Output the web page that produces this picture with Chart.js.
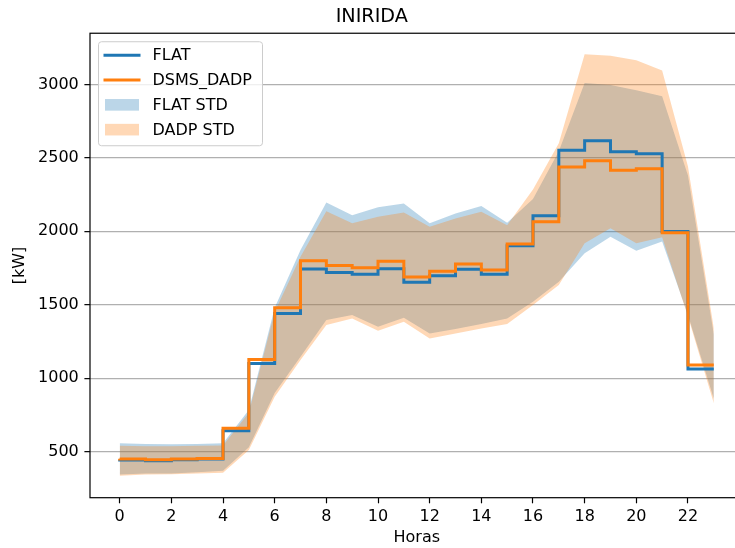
<!DOCTYPE html>
<html>
<head>
<meta charset="utf-8">
<title>INIRIDA</title>
<script src="https://cdn.jsdelivr.net/npm/chart.js@4.4.0/dist/chart.umd.min.js"></script>
<style>
  html, body { margin: 0; padding: 0; background: #fff; overflow: hidden; }
  canvas { display: block; }
</style>
</head>
<body>
<canvas id="chart" width="834" height="548"></canvas>
<script>
// hourly demand profile for Inirida, flat tariff vs DSMS_DADP
const hours = [0, 1, 2, 3, 4, 5, 6, 7, 8, 9, 10, 11, 12, 13, 14, 15, 16, 17, 18, 19, 20, 21, 22, 23];

// mean load (kW), drawn as steps: value i covers hour i-1..i
const flat = [446, 444, 439, 446, 450, 643, 1101, 1441, 1743, 1720, 1707, 1745, 1654, 1697, 1741, 1707, 1901, 2106, 2552, 2616, 2541, 2527, 1998, 1063];
const dadp = [452, 450, 446, 450, 454, 659, 1128, 1480, 1800, 1768, 1752, 1797, 1689, 1729, 1777, 1737, 1913, 2065, 2437, 2480, 2416, 2425, 1990, 1090];

// std bands (upper / lower edge)
const flatUpper = [557, 552, 550, 552, 557, 784, 1480, 1872, 2196, 2110, 2163, 2190, 2054, 2121, 2173, 2058, 2220, 2545, 3010, 2996, 2960, 2919, 2380, 1300];
const flatLower = [345, 352, 352, 360, 370, 530, 900, 1146, 1396, 1430, 1350, 1411, 1305, 1335, 1369, 1407, 1520, 1657, 1850, 1963, 1868, 1930, 1430, 860];
const dadpUpper = [540, 538, 537, 540, 543, 765, 1450, 1827, 2136, 2054, 2099, 2128, 2031, 2088, 2133, 2042, 2285, 2600, 3205, 3195, 3165, 3094, 2441, 1340];
const dadpLower = [337, 345, 346, 352, 357, 512, 874, 1124, 1362, 1407, 1323, 1384, 1271, 1305, 1339, 1369, 1498, 1634, 1918, 2020, 1918, 1960, 1420, 830];

const xTicks = [0, 2, 4, 6, 8, 10, 12, 14, 16, 18, 20, 22];
const yTicks = [500, 1000, 1500, 2000, 2500, 3000];

const BLUE = '#1f77b4';
const ORANGE = '#ff7f0e';
const BLUE_BAND = 'rgba(31,119,180,0.3)';
const ORANGE_BAND = 'rgba(255,127,14,0.3)';
const FONT = 'DejaVu Sans';

function points(ys) {
  return ys.map((y, i) => ({x: hours[i], y: y}));
}

// legend rows, as dataset indexes
const legendOrder = [1, 0, 4, 2];

// axes frame + boxed legend in the upper left corner
const frameLegend = {
  id: 'frameLegend',
  afterDraw(chart) {
    const ctx = chart.ctx;
    const a = chart.chartArea;
    ctx.save();

    // spines
    ctx.strokeStyle = '#000';
    ctx.lineWidth = 1.2;
    ctx.strokeRect(a.left, a.top, a.right - a.left, a.bottom - a.top);

    // legend box
    const bx = a.left + 8.5, by = a.top + 8.5, bw = 164, bh = 104, r = 3;
    ctx.beginPath();
    ctx.moveTo(bx + r, by);
    ctx.arcTo(bx + bw, by, bx + bw, by + bh, r);
    ctx.arcTo(bx + bw, by + bh, bx, by + bh, r);
    ctx.arcTo(bx, by + bh, bx, by, r);
    ctx.arcTo(bx, by, bx + bw, by, r);
    ctx.closePath();
    ctx.fillStyle = 'rgba(255,255,255,0.8)';
    ctx.fill();
    ctx.strokeStyle = '#cccccc';
    ctx.lineWidth = 1;
    ctx.stroke();

    ctx.font = '16px "' + FONT + '"';
    ctx.textBaseline = 'middle';
    ctx.textAlign = 'left';
    legendOrder.forEach((idx, row) => {
      const ds = chart.data.datasets[idx];
      const cy = by + 13.5 + row * 24.8;
      if (ds.fill) {
        ctx.fillStyle = ds.backgroundColor;
        ctx.fillRect(bx + 6.5, cy - 5.8, 34, 11.6);
      } else {
        ctx.strokeStyle = ds.borderColor;
        ctx.lineWidth = ds.borderWidth;
        ctx.beginPath();
        ctx.moveTo(bx + 5, cy);
        ctx.lineTo(bx + 42, cy);
        ctx.stroke();
      }
      ctx.fillStyle = '#000';
      ctx.fillText(ds.label, bx + 54, cy + 1);
    });
    ctx.restore();
  }
};

const bandStyle = {
  borderColor: 'rgba(0,0,0,0)',
  borderWidth: 0,
  pointRadius: 0,
  tension: 0
};

new Chart(document.getElementById('chart'), {
  type: 'line',
  data: {
    datasets: [
      {label: 'DSMS_DADP', data: points(dadp), borderColor: ORANGE, borderWidth: 3,
       stepped: 'after', pointRadius: 0, fill: false},
      {label: 'FLAT', data: points(flat), borderColor: BLUE, borderWidth: 3,
       stepped: 'after', pointRadius: 0, fill: false},
      Object.assign({label: 'DADP STD', data: points(dadpUpper), backgroundColor: ORANGE_BAND, fill: '+1'}, bandStyle),
      Object.assign({label: 'DADP STD low', data: points(dadpLower), backgroundColor: ORANGE_BAND, fill: false}, bandStyle),
      Object.assign({label: 'FLAT STD', data: points(flatUpper), backgroundColor: BLUE_BAND, fill: '+1'}, bandStyle),
      Object.assign({label: 'FLAT STD low', data: points(flatLower), backgroundColor: BLUE_BAND, fill: false}, bandStyle)
    ]
  },
  options: {
    responsive: false,
    devicePixelRatio: 1,
    animation: false,
    events: [],
    layout: {padding: {left: 0, right: 90.5, top: 0, bottom: 0}},
    plugins: {
      legend: {display: false},
      tooltip: {enabled: false},
      title: {
        display: true,
        text: 'INIRIDA',
        color: '#000',
        font: {family: FONT, size: 19.2, weight: 'normal', lineHeight: 1.2},
        padding: {top: 5, bottom: 5.2}
      }
    },
    scales: {
      x: {
        type: 'linear',
        min: -1.15,
        max: 24.15,
        afterBuildTicks: (scale) => { scale.ticks = xTicks.map(v => ({value: v})); },
        afterFit: (scale) => { scale.height = 50.3; },
        ticks: {
          color: '#000',
          padding: 4,
          maxRotation: 0,
          autoSkip: false,
          font: {family: FONT, size: 16},
          callback: (v) => String(v)
        },
        grid: {
          drawOnChartArea: false,
          color: '#000',
          tickColor: '#000',
          tickLength: 5.6,
          tickWidth: 1.2
        },
        border: {display: false},
        title: {
          display: true,
          text: 'Horas',
          color: '#000',
          font: {family: FONT, size: 16, lineHeight: 1.2},
          padding: {top: 0, bottom: 0.5}
        }
      },
      y: {
        min: 187,
        max: 3348,
        afterBuildTicks: (scale) => { scale.ticks = yTicks.map(v => ({value: v})); },
        afterFit: (scale) => { scale.width = 90; },
        ticks: {
          color: '#000',
          padding: 5.6,
          autoSkip: false,
          font: {family: FONT, size: 16},
          callback: (v) => String(v)
        },
        grid: {
          color: '#b0b0b0',
          lineWidth: 1.28,
          tickColor: '#000',
          tickLength: 5.6,
          tickWidth: 1.2
        },
        border: {display: false},
        title: {
          display: true,
          text: '[kW]',
          color: '#000',
          font: {family: FONT, size: 16, lineHeight: 1.2},
          padding: {top: 10.4, bottom: 0}
        }
      }
    }
  },
  plugins: [frameLegend]
});
</script>
</body>
</html>
